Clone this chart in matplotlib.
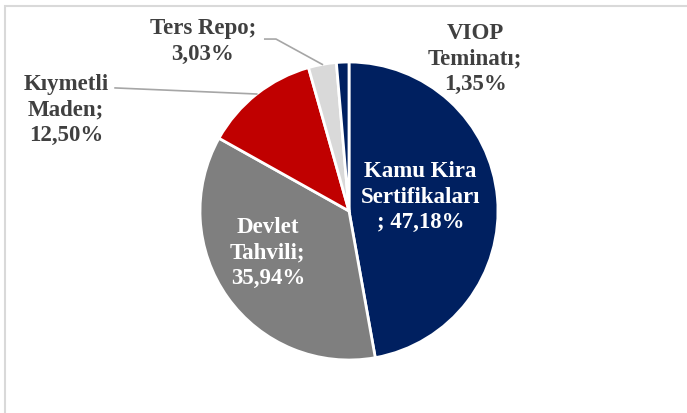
import matplotlib.pyplot as plt
import numpy as np
from matplotlib.patches import Rectangle

labels = ["Kamu Kira\nSertifikaları\n; 47,18%", "Devlet\nTahvili;\n35,94%",
          "Kıymetli\nMaden;\n12,50%", "Ters Repo;\n3,03%", "VIOP\nTeminatı;\n1,35%"]
shares = [47.18, 35.94, 12.50, 3.03, 1.35]
colors = ["#002060", "#7f7f7f", "#c00000", "#d9d9d9", "#002060"]

# label placement (data units, pie radius = 1)
label_pos = [(0.48, 0.10), (-0.545, -0.275), (-1.90, 0.685), (-0.98, 1.144), (0.846, 1.027)]
label_color = ["white", "white", "#404040", "#404040", "#404040"]

W, H = 687, 414
fig = plt.figure(figsize=(W / 100, H / 100), dpi=100)

# chart frame
fig.patches.append(Rectangle((5 / W, -0.1), 1.2, (H - 7) / H + 0.1, transform=fig.transFigure,
                             fill=False, edgecolor="#d9d9d9", lw=1.5))

cx, cy, r = 349, 212, 149
ax = fig.add_axes([(cx - r) / W, (H - cy - r) / H, 2 * r / W, 2 * r / H])

wedges, _ = ax.pie(shares, colors=colors, startangle=90, counterclock=False, radius=1,
                   wedgeprops=dict(edgecolor="white", linewidth=2.0))
ax.set_xlim(-1, 1)
ax.set_ylim(-1, 1)
ax.axis("off")

font = dict(family="Liberation Serif", weight="bold", fontsize=16.5)
for (x, y), lab, c in zip(label_pos, labels, label_color):
    ax.text(x, y, lab, ha="center", va="center", color=c, linespacing=1.3,
            clip_on=False, **font)

# leader lines to small slices
def mid_point(w):
    a = np.deg2rad((w.theta1 + w.theta2) / 2)
    return np.cos(a), np.sin(a)

ex, ey = mid_point(wedges[3])
ax.plot([-0.565, -0.49, ex], [1.154, 1.154, ey], color="#a6a6a6", lw=1.2, clip_on=False)
ex, ey = mid_point(wedges[2])
ax.plot([-1.57, ex], [0.826, ey], color="#a6a6a6", lw=1.2, clip_on=False)

fig.savefig("out.png", dpi=100)
